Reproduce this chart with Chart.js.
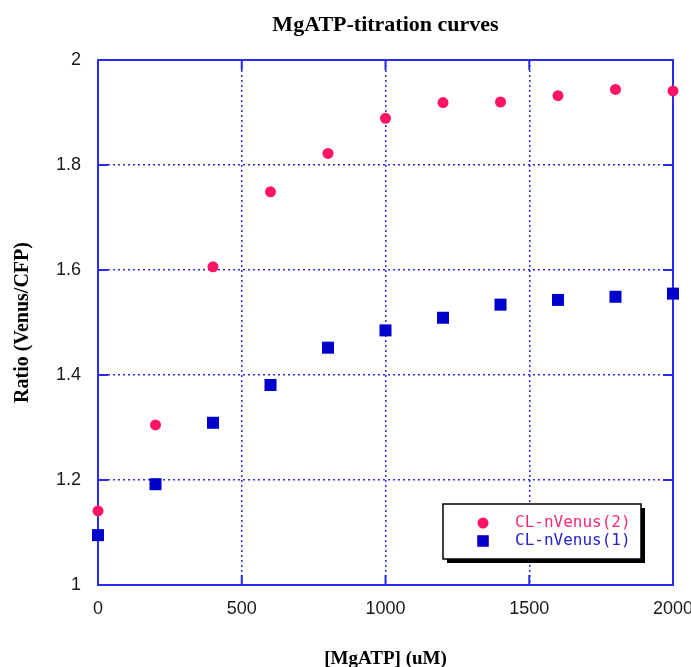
<!DOCTYPE html>
<html>
<head>
<meta charset="utf-8">
<script src="https://cdn.jsdelivr.net/npm/chart.js@4.4.1/dist/chart.umd.min.js"></script>
<style>
  html, body { margin: 0; padding: 0; background: #ffffff; }
  #c { display: block; }
</style>
</head>
<body>
<canvas id="c" width="691" height="667"></canvas>
<script>
// MgATP concentrations (uM) and the Venus/CFP ratio measured for each construct
const concentrations = [0, 200, 400, 600, 800, 1000, 1200, 1400, 1600, 1800, 2000];
const ratioVenus2 = [1.141, 1.305, 1.606, 1.749, 1.822, 1.889, 1.919, 1.920, 1.932, 1.944, 1.941];
const ratioVenus1 = [1.095, 1.192, 1.309, 1.381, 1.452, 1.485, 1.509, 1.534, 1.543, 1.549, 1.555];
const seriesNames = ['CL-nVenus(2)', 'CL-nVenus(1)'];
const xTicks = [0, 500, 1000, 1500, 2000];
const yTicks = [1, 1.2, 1.4, 1.6, 1.8, 2];

const frameColor = '#2b2bf0';
const tickFont = { family: "'Liberation Sans', Arial, sans-serif", size: 18 };
const serifBold = (size) => ({ family: "'Liberation Serif', 'Times New Roman', serif", size: size, weight: 'bold' });

const toPoints = ys => concentrations.map((x, i) => ({ x: x, y: ys[i] }));

// Solid plot frame plus short inward tick marks on all four sides
const framePlugin = {
  id: 'frame',
  beforeDatasetsDraw(chart) {
    const { ctx, chartArea: a, scales } = chart;
    ctx.save();
    ctx.strokeStyle = frameColor;
    ctx.lineWidth = 2;
    ctx.setLineDash([]);
    ctx.strokeRect(a.left, a.top, a.right - a.left, a.bottom - a.top);
    const len = 10;
    ctx.beginPath();
    scales.x.ticks.forEach(t => {
      const px = scales.x.getPixelForValue(t.value);
      ctx.moveTo(px, a.bottom); ctx.lineTo(px, a.bottom - len);
      ctx.moveTo(px, a.top); ctx.lineTo(px, a.top + len);
    });
    scales.y.ticks.forEach(t => {
      const py = scales.y.getPixelForValue(t.value);
      ctx.moveTo(a.left, py); ctx.lineTo(a.left + len, py);
      ctx.moveTo(a.right, py); ctx.lineTo(a.right - len, py);
    });
    ctx.stroke();
    ctx.restore();
  }
};

// Boxed legend with drop shadow in the lower right of the plot
const boxLegendPlugin = {
  id: 'boxLegend',
  afterDraw(chart) {
    const { ctx, chartArea: a } = chart;
    const w = 198, h = 55;
    const x = a.right - 230, y = a.bottom - 81;
    ctx.save();
    ctx.fillStyle = '#000000';
    ctx.fillRect(x + 4, y + 4, w, h);
    ctx.fillStyle = '#ffffff';
    ctx.fillRect(x, y, w, h);
    ctx.strokeStyle = '#000000';
    ctx.lineWidth = 1.5;
    ctx.strokeRect(x, y, w, h);
    ctx.font = "16px 'DejaVu Sans Mono', monospace";
    ctx.textBaseline = 'middle';
    ctx.textAlign = 'left';
    const textColors = ['#ff2a6e', '#2323d0'];
    chart.data.datasets.forEach((ds, i) => {
      const cy = y + 19 + i * 18;
      Chart.helpers.drawPoint(ctx, {
        pointStyle: ds.pointStyle,
        radius: ds.legendRadius,
        borderWidth: 0
      }, x + 40, cy);
      ctx.fillStyle = ds.backgroundColor;
      ctx.fill();
      ctx.fillStyle = textColors[i];
      ctx.fillText(ds.label, x + 72, cy);
    });
    ctx.restore();
  }
};

new Chart(document.getElementById('c'), {
  type: 'scatter',
  data: {
    datasets: [
      {
        label: seriesNames[0],
        data: toPoints(ratioVenus2),
        pointStyle: 'circle',
        pointRadius: 5.5,
        pointHoverRadius: 5.5,
        legendRadius: 5.5,
        backgroundColor: '#ff1466',
        borderWidth: 0,
        showLine: false,
        clip: false
      },
      {
        label: seriesNames[1],
        data: toPoints(ratioVenus1),
        pointStyle: 'rect',
        pointRadius: 8.5,
        pointHoverRadius: 8.5,
        legendRadius: 8,
        backgroundColor: '#0000cc',
        borderWidth: 0,
        showLine: false,
        clip: false
      }
    ]
  },
  options: {
    responsive: false,
    animation: false,
    devicePixelRatio: 1,
    layout: { padding: { left: 0, right: 18, top: 0, bottom: 0 } },
    plugins: {
      legend: { display: false },
      tooltip: { enabled: false },
      title: {
        display: true,
        fullSize: false,
        text: 'MgATP-titration curves',
        color: '#000000',
        font: serifBold(22),
        padding: { top: 12, bottom: 21.6 }
      }
    },
    scales: {
      x: {
        type: 'linear',
        min: 0,
        max: 2000,
        afterBuildTicks: s => { s.ticks = xTicks.map(v => ({ value: v })); },
        afterFit: s => { s.height = 82; s.paddingLeft = 0; s.paddingRight = 0; },
        grid: { color: frameColor, lineWidth: 1.5, drawTicks: false },
        border: { display: false, dash: [2, 3] },
        ticks: { color: '#1a1a1a', font: tickFont, padding: 13, maxRotation: 0, callback: v => String(v) },
        title: {
          display: true,
          text: '[MgATP] (uM)',
          color: '#000000',
          font: serifBold(19),
          padding: { top: 0, bottom: -3 }
        }
      },
      y: {
        type: 'linear',
        min: 1,
        max: 2,
        afterBuildTicks: s => { s.ticks = yTicks.map(v => ({ value: v })); },
        afterFit: s => { s.width = 98; s.paddingTop = 0; s.paddingBottom = 0; },
        grid: { color: frameColor, lineWidth: 1.5, drawTicks: false },
        border: { display: false, dash: [2, 3] },
        ticks: { color: '#1a1a1a', font: tickFont, padding: 17, callback: v => String(v) },
        title: {
          display: true,
          text: 'Ratio (Venus/CFP)',
          color: '#000000',
          font: serifBold(20),
          padding: { top: 10.5, bottom: 0 }
        }
      }
    }
  },
  plugins: [framePlugin, boxLegendPlugin]
});
</script>
</body>
</html>
